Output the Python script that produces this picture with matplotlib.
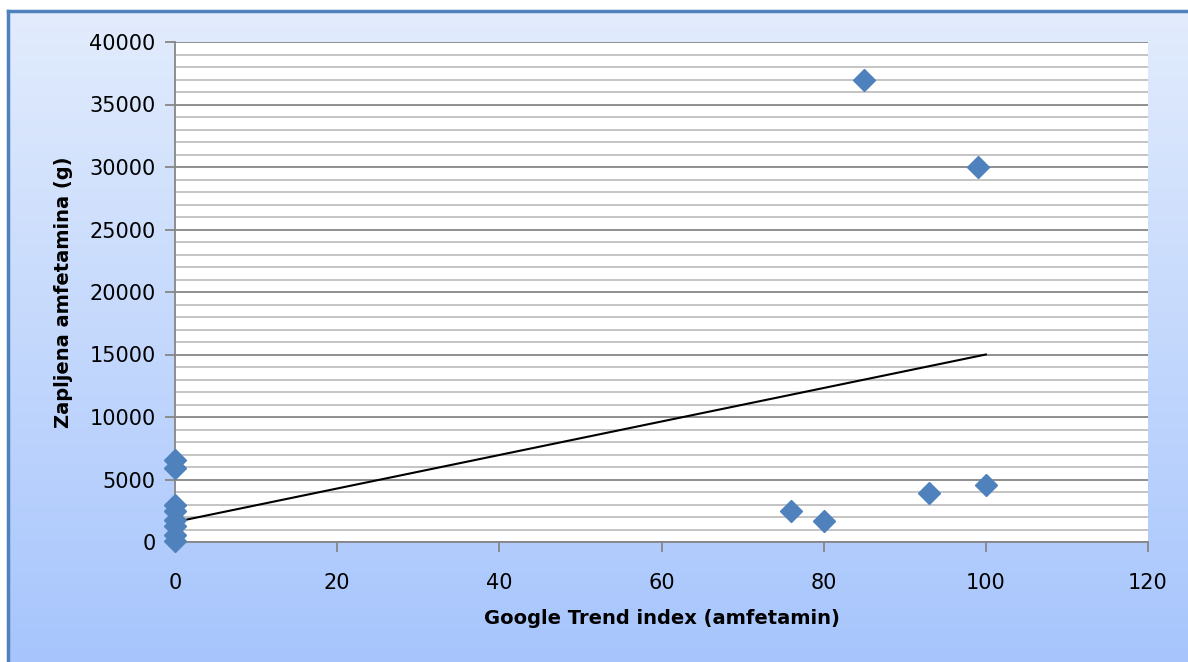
import numpy as np
import matplotlib.pyplot as plt
from matplotlib.lines import Line2D

# Google Trend index vs. seized amphetamine (g)
trend_index = [0, 0, 0, 0, 0, 0, 0, 0, 76, 80, 85, 93, 99, 100]
seized_g = [6600, 5900, 2950, 2450, 1750, 1250, 550, 50, 2450, 1650, 36950, 3950, 30000, 4600]

# linear trendline endpoints as drawn in the original
trendline_x = [0, 100]
trendline_y = [1600, 15000]

x_ticks = [0, 20, 40, 60, 80, 100, 120]
y_ticks = [0, 5000, 10000, 15000, 20000, 25000, 30000, 35000, 40000]

W, H = 1188, 662
fig = plt.figure(figsize=(W / 100, H / 100), dpi=100)

# gradient background of the chart area (right/bottom edges run off the image)
x0, y1 = 8 / W, 1 - 11 / H
bg = fig.add_axes([x0, 0, 1 - x0, y1], zorder=0)
top = np.array([0.886, 0.925, 0.992])
bot = np.array([0.655, 0.773, 0.992])
t = np.linspace(0, 1, 256)[:, None]
grad = top * (1 - t) + bot * t
bg.imshow(grad[:, None, :].repeat(2, axis=1), aspect='auto', extent=[0, 1, 0, 1])
bg.set_axis_off()

# blue frame, only left and top visible
fig.add_artist(Line2D([x0, x0], [0, y1], color='#4F81BD', lw=2.5, transform=fig.transFigure))
fig.add_artist(Line2D([x0, 1], [y1, y1], color='#4F81BD', lw=2.5, transform=fig.transFigure))

ax = fig.add_axes([175 / W, 1 - 542 / H, (1148 - 175) / W, (542 - 42) / H], zorder=1)
ax.set_facecolor('white')

ax.set_xlim(0, 120)
ax.set_ylim(0, 40000)
ax.set_xticks(x_ticks)
ax.set_yticks(y_ticks)
ax.set_yticks(np.arange(0, 40001, 1000), minor=True)

ax.grid(axis='y', which='minor', color='#BFBFBF', lw=1.3)
ax.grid(axis='y', which='major', color='#868686', lw=1.3)
ax.set_axisbelow(True)

for s in ['top', 'right']:
    ax.spines[s].set_visible(False)
for s in ['left', 'bottom']:
    ax.spines[s].set_color('#868686')
    ax.spines[s].set_linewidth(1.3)

ax.tick_params(axis='both', which='major', direction='out', length=7, width=1.3,
               color='#868686', labelsize=15)
ax.tick_params(axis='y', which='major', pad=7)
ax.tick_params(axis='x', which='major', pad=15)
ax.tick_params(axis='y', which='minor', length=0)

ax.plot(trendline_x, trendline_y, color='black', lw=1.5, zorder=3)
ax.plot(trend_index, seized_g, linestyle='none', marker='D', markersize=11,
        color='#4F81BD', zorder=4, clip_on=False)

ax.set_xlabel("Google Trend index (amfetamin)", fontsize=14, fontweight='bold', labelpad=12)
ax.set_ylabel("Zapljena amfetamina (g)", fontsize=14, fontweight='bold', labelpad=12)

fig.savefig("out.png", dpi=100)
